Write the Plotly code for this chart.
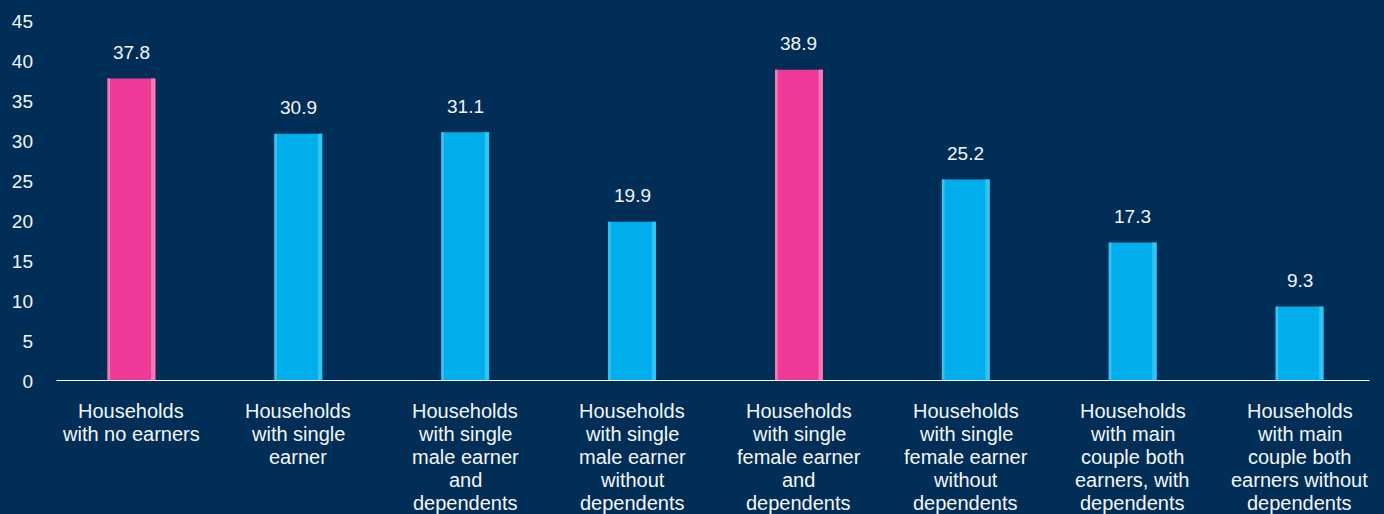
import plotly.graph_objects as go

categories = [
    "Households<br>with no earners",
    "Households<br>with single<br>earner",
    "Households<br>with single<br>male earner<br>and<br>dependents",
    "Households<br>with single<br>male earner<br>without<br>dependents",
    "Households<br>with single<br>female earner<br>and<br>dependents",
    "Households<br>with single<br>female earner<br>without<br>dependents",
    "Households<br>with main<br>couple both<br>earners, with<br>dependents",
    "Households<br>with main<br>couple both<br>earners without<br>dependents",
]
values = [37.8, 30.9, 31.1, 19.9, 38.9, 25.2, 17.3, 9.3]
highlight = [True, False, False, False, True, False, False, False]
y_ticks = [0, 5, 10, 15, 20, 25, 30, 35, 40, 45]

BG = "#002e56"
PINK = "#ee3a96"
PINK_EDGE = "#f47ab6"
CYAN = "#00aeeb"
CYAN_EDGE = "#33c3f2"
FONT = "Liberation Sans, Arial, sans-serif"
TXT = "#f4f6f8"

xs = list(range(len(categories)))
main_colors = [PINK if h else CYAN for h in highlight]
edge_colors = [PINK_EDGE if h else CYAN_EDGE for h in highlight]

BW = 0.287
fig = go.Figure()
fig.add_trace(go.Bar(x=xs, y=values, width=BW, offset=-BW / 2,
                     marker=dict(color=main_colors, line=dict(width=0)),
                     hoverinfo="skip"))
# subtle lighter edges on each bar
fig.add_trace(go.Bar(x=xs, y=values, width=0.016, offset=-BW / 2,
                     marker=dict(color=edge_colors, line=dict(width=0)),
                     hoverinfo="skip"))
fig.add_trace(go.Bar(x=xs, y=values, width=0.026, offset=BW / 2 - 0.026,
                     marker=dict(color=edge_colors, line=dict(width=0)),
                     hoverinfo="skip"))

annotations = []
for x, v in zip(xs, values):
    annotations.append(dict(x=x, y=v, xref="x", yref="y", text=f"{v:.1f}",
                            showarrow=False, yanchor="middle", yshift=26,
                            font=dict(family=FONT, size=19, color=TXT)))
for x, lab in zip(xs, categories):
    for j, line in enumerate(lab.split("<br>")):
        annotations.append(dict(x=x, y=0, xref="x", yref="y", text=line,
                                showarrow=False, yanchor="middle",
                                yshift=-(29.5 + j * 23.2),
                                font=dict(family=FONT, size=20, color=TXT)))

fig.update_layout(
    width=1384, height=514,
    paper_bgcolor=BG, plot_bgcolor=BG,
    margin=dict(l=47.5, r=0.5, t=21, b=133),
    barmode="overlay", showlegend=False,
    font=dict(family=FONT, size=19, color=TXT),
    annotations=annotations,
    shapes=[dict(type="line", xref="x", yref="y", x0=-0.449, x1=7.419, y0=0, y1=0,
                 line=dict(color="#ffffff", width=2))],
    xaxis=dict(range=[-0.5, 7.5], showticklabels=False, showgrid=False,
               zeroline=False, showline=False, ticks=""),
    yaxis=dict(range=[0, 45], tickvals=y_ticks, showgrid=False, zeroline=False,
               showline=False, ticks="", ticklabelstandoff=14,
               tickfont=dict(family=FONT, size=19, color=TXT)),
)

fig.write_html("out.html", config={"displayModeBar": False},
               post_script="document.body.style.margin='0';document.body.style.background='" + BG + "';")
